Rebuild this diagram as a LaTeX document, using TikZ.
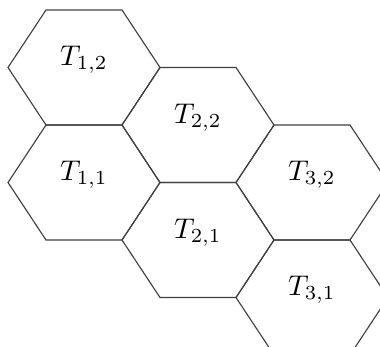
\documentclass[tikz,border=0pt]{standalone}
\begin{document}
\begin{tikzpicture}[x=0.351pt,y=-0.351pt,
  hexline/.style={draw=black!75,line width=0.4pt,line join=miter},
  lab/.style={anchor=base,inner sep=0pt}]
\useasboundingbox (0,0) rectangle (380,347);
\clip (0,0) rectangle (380,347);
\coordinate (c12) at (84,67.5);
\coordinate (c11) at (84,182.5);
\coordinate (c22) at (198,125);
\coordinate (c21) at (198,240);
\coordinate (c32) at (312,182.5);
\coordinate (c31) at (312,297.5);
\foreach \c in {c12,c11,c22,c21,c32,c31}{
  \draw[hexline] (\c) ++(-76,0) -- ++(38,-57.5) -- ++(76,0) -- ++(38,57.5)
     -- ++(-38,57.5) -- ++(-76,0) -- cycle;
}
\node[lab] (t12) at ([yshift=1.8*0.351pt]c12) {$T_{1,2}$};
\node[lab] (t11) at ([yshift=1.8*0.351pt]c11) {$T_{1,1}$};
\node[lab] (t22) at ([yshift=1.8*0.351pt]c22) {$T_{2,2}$};
\node[lab] (t21) at ([yshift=1.8*0.351pt]c21) {$T_{2,1}$};
\node[lab] (t32) at ([yshift=1.8*0.351pt]c32) {$T_{3,2}$};
\node[lab] (t31) at ([yshift=1.8*0.351pt]c31) {$T_{3,1}$};
\end{tikzpicture}
\end{document}
